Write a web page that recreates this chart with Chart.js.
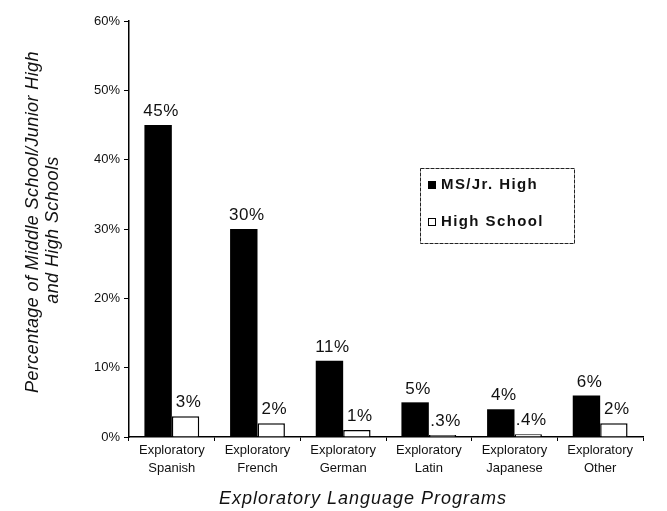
<!DOCTYPE html>
<html>
<head>
<meta charset="utf-8">
<script src="https://cdn.jsdelivr.net/npm/chart.js@4/dist/chart.umd.min.js"></script>
<style>
html,body{margin:0;padding:0;background:#fff;}
#wrap{width:667px;height:511px;position:relative;}
</style>
</head>
<body>
<div id="wrap"><canvas id="c" width="667" height="511"></canvas></div>
<script>
const categories = [
  ["Exploratory", "Spanish"],
  ["Exploratory", "French"],
  ["Exploratory", "German"],
  ["Exploratory", "Latin"],
  ["Exploratory", "Japanese"],
  ["Exploratory", "Other"]
];
const msJrHigh = [45, 30, 11, 5, 4, 6];
const highSchool = [3, 2, 1, 0.3, 0.4, 2];
const msLabels = ["45%", "30%", "11%", "5%", "4%", "6%"];
const hsLabels = ["3%", "2%", "1%", ".3%", ".4%", "2%"];
const seriesNames = ["MS/Jr. High", "High School"];
const yTitle = ["Percentage of Middle School/Junior High", "and High Schools"];
const xTitle = "Exploratory Language Programs";

const FONT = "'Liberation Sans', Arial, Helvetica, sans-serif";
const INK = "#111";

const valueLabels = {
  id: "valueLabels",
  afterDatasetsDraw(chart) {
    const ctx = chart.ctx;
    ctx.save();
    ctx.font = "17px " + FONT;
    ctx.letterSpacing = "0.5px";
    ctx.fillStyle = INK;
    ctx.textAlign = "center";
    ctx.textBaseline = "bottom";
    const sets = [msLabels, hsLabels];
    chart.data.datasets.forEach((ds, i) => {
      const meta = chart.getDatasetMeta(i);
      meta.data.forEach((bar, j) => {
        ctx.fillText(sets[i][j], bar.x + 3, bar.y - 5);
      });
    });
    ctx.restore();
  }
};

const titlesAndLegend = {
  id: "titlesAndLegend",
  afterDraw(chart) {
    const ctx = chart.ctx;
    const ca = chart.chartArea;
    ctx.save();
    ctx.fillStyle = INK;
    // Y title
    ctx.font = "italic 18px " + FONT;
    ctx.letterSpacing = "0.4px";
    ctx.textAlign = "center";
    ctx.textBaseline = "middle";
    const cy = (ca.top + ca.bottom) / 2;
    ctx.save();
    ctx.translate(33, cy - 7);
    ctx.rotate(-Math.PI / 2);
    ctx.fillText(yTitle[0], 0, 0);
    ctx.restore();
    ctx.save();
    ctx.translate(53, cy + 1);
    ctx.rotate(-Math.PI / 2);
    ctx.fillText(yTitle[1], 0, 0);
    ctx.restore();
    // X title
    ctx.letterSpacing = "1px";
    ctx.fillText(xTitle, 363, 499);
    // Legend box
    const lx = 420, ly = 168, lw = 154, lh = 75;
    ctx.strokeStyle = "#222";
    ctx.lineWidth = 1;
    ctx.setLineDash([4, 1]);
    ctx.strokeRect(lx + 0.5, ly + 0.5, lw, lh);
    ctx.setLineDash([]);
    const rows = [185, 222];
    ctx.font = "bold 15px " + FONT;
    ctx.letterSpacing = "1.4px";
    ctx.textAlign = "left";
    ctx.textBaseline = "middle";
    chart.data.datasets.forEach((ds, i) => {
      const y = rows[i];
      ctx.fillStyle = ds.backgroundColor;
      ctx.fillRect(428, y - 4, 8, 8);
      ctx.strokeStyle = "#000";
      ctx.lineWidth = 1;
      ctx.strokeRect(428.5, y - 3.5, 7, 7);
      ctx.fillStyle = INK;
      ctx.fillText(ds.label, 441, y);
    });
    ctx.restore();
  }
};

new Chart(document.getElementById("c"), {
  type: "bar",
  data: {
    labels: categories,
    datasets: [
      {
        label: seriesNames[0],
        data: msJrHigh,
        backgroundColor: "#000",
        borderColor: "#000",
        borderWidth: 0,
        categoryPercentage: 0.64,
        barPercentage: 1
      },
      {
        label: seriesNames[1],
        data: highSchool,
        backgroundColor: "#fff",
        borderColor: "#000",
        borderWidth: 1.5,
        borderSkipped: "bottom",
        categoryPercentage: 0.64,
        barPercentage: 1
      }
    ]
  },
  options: {
    responsive: false,
    animation: false,
    devicePixelRatio: 1,
    layout: { padding: { top: 21, right: 24, left: 0, bottom: 0 } },
    plugins: { legend: { display: false }, tooltip: { enabled: false } },
    scales: {
      x: {
        afterFit(s) { s.height = 74; },
        grid: {
          offset: true,
          drawOnChartArea: false,
          drawTicks: true,
          tickLength: 4,
          color: "#000",
          lineWidth: 1
        },
        border: { color: "#000", width: 1.5 },
        ticks: {
          color: INK,
          font: { family: FONT, size: 13, lineHeight: 1.35 },
          padding: 1,
          maxRotation: 0,
          autoSkip: false
        }
      },
      y: {
        min: 0,
        max: 60,
        afterFit(s) { s.width = 129; },
        grid: {
          drawOnChartArea: false,
          drawTicks: true,
          tickLength: 5,
          color: "#000",
          lineWidth: 1
        },
        border: { color: "#000", width: 1.5 },
        ticks: {
          stepSize: 10,
          color: INK,
          font: { family: FONT, size: 13 },
          padding: 4,
          callback: v => v + "%"
        }
      }
    }
  },
  plugins: [valueLabels, titlesAndLegend]
});
</script>
</body>
</html>
